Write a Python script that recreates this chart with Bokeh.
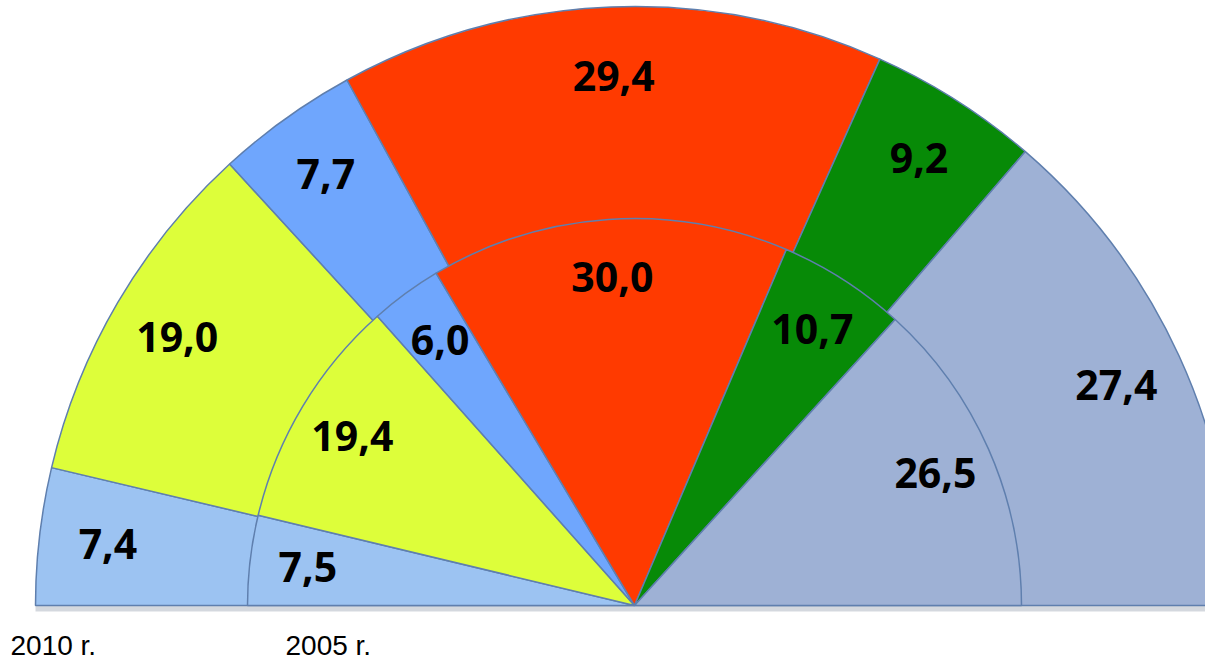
import math
from bokeh.plotting import figure
from bokeh.models import ColumnDataSource, Range1d
from bokeh.core.properties import value
from bokeh.embed import file_html
from bokeh.resources import INLINE

# data
values_2010 = [7.4, 19.0, 7.7, 29.4, 9.2, 27.4]
values_2005 = [7.5, 19.4, 6.0, 30.0, 10.7, 26.5]
labels_2010 = ["7,4", "19,0", "7,7", "29,4", "9,2", "27,4"]
labels_2005 = ["7,5", "19,4", "6,0", "30,0", "10,7", "26,5"]
colors = ["#9cc3f2", "#ddfe3a", "#6fa6fd", "#ff3a00", "#078a07", "#9eb1d5"]
ring_titles = ["2010 r.", "2005 r."]

R_OUT = 599
R_IN = 387
CX, CY = 634, 605  # pixel position of centre in picture

W, H = 1205, 663
X0, Y0 = 0, 0
p = figure(width=W, height=H, output_backend="svg", toolbar_location=None,
           x_range=Range1d(X0 - CX, X0 + W - CX), y_range=Range1d(CY - (Y0 + H), CY - Y0),
           min_border=0, outline_line_color=None)
p.axis.visible = False
p.grid.visible = False
p.background_fill_color = "white"
p.border_fill_color = "white"


def ring(vals, labels, radius, frac):
    total = sum(vals)
    starts, ends, lx, ly = [], [], [], []
    cum = 0.0
    for v in vals:
        a1 = math.pi - cum / total * math.pi
        cum += v
        a0 = math.pi - cum / total * math.pi
        starts.append(a0)
        ends.append(a1)
        mid = (a0 + a1) / 2
        lx.append(radius * frac * math.cos(mid))
        ly.append(radius * frac * math.sin(mid))
    src = ColumnDataSource(dict(start=starts, end=ends, color=colors,
                                lx=lx, ly=ly, text=labels))
    p.wedge(x=0, y=0, radius=radius, start_angle="start", end_angle="end",
            fill_color="color", line_color="#5f7fae", line_width=1.5,
            source=src)
    return src


# base shadow strip
p.quad(left=-R_OUT, right=R_OUT, bottom=-6, top=0, fill_color="#c9ced6",
       line_color=None, fill_alpha=0.8)

src_out = ring(values_2010, labels_2010, R_OUT, 0.885)
src_in = ring(values_2005, labels_2005, R_IN, 0.85)

for src in (src_out, src_in):
    p.text(x="lx", y="ly", text="text", source=src, text_align="center",
           text_baseline="middle", text_font=value("Open Sans"),
           text_font_style="bold", text_font_size="41px", text_color="black")

p.text(x=[10 - CX, 285 - CX], y=[CY - 645, CY - 645], text=ring_titles,
       text_align="left", text_baseline="middle",
       text_font=value("Liberation Sans"), text_font_size="28px",
       text_color="black")

open("out.html", "w").write(file_html(p, INLINE))
